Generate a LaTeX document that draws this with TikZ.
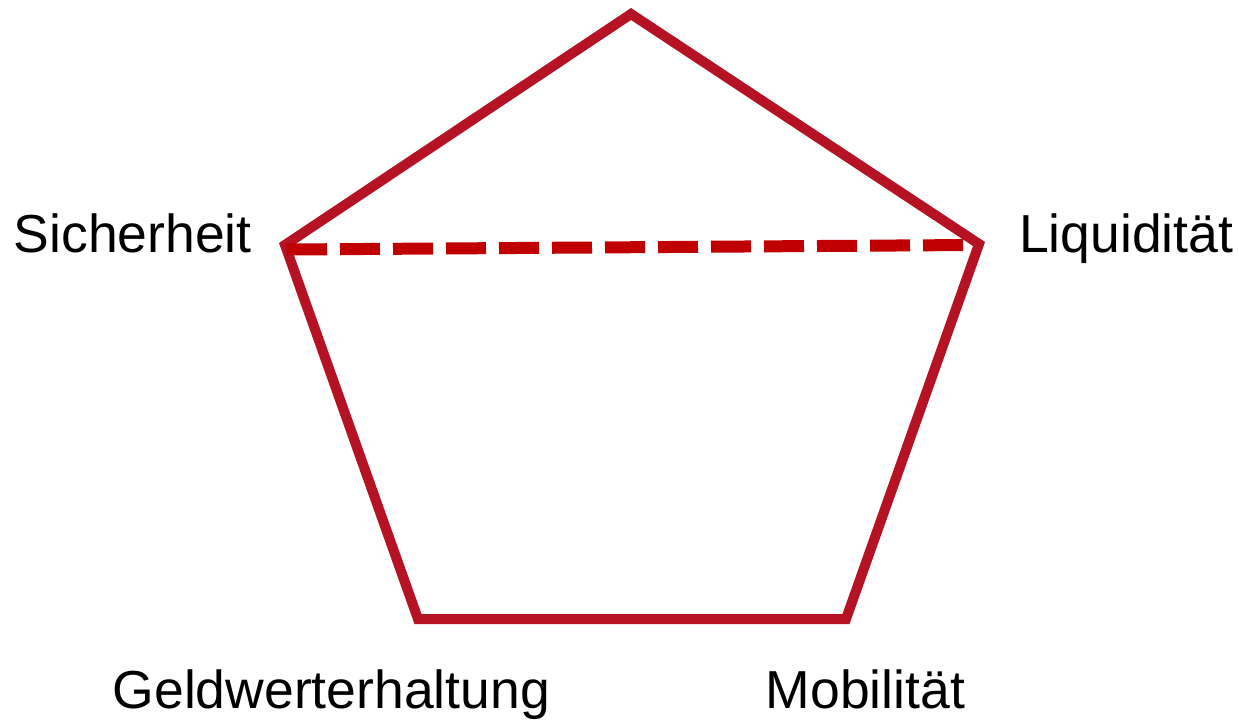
\documentclass[tikz,border=0pt]{standalone}
\usepackage{fontspec}
\setmainfont{Liberation Sans}
\definecolor{penta}{RGB}{181,18,35}
\definecolor{dashred}{RGB}{192,0,0}
\tikzset{
  lbl/.style={anchor=base west, inner sep=0pt, font=\fontsize{53.5}{60}\selectfont},
  edge/.style={draw=penta, line width=10pt, line join=miter},
  diag/.style={draw=dashred, line width=12pt, dash pattern=on 40pt off 13pt}
}
\begin{document}
\begin{tikzpicture}[x=1pt,y=-1pt]
\useasboundingbox (0,0) rectangle (1239,723);
\coordinate (T) at (631,14);
\coordinate (L) at (285,245);
\coordinate (R) at (979,244);
\coordinate (BL) at (418,619);
\coordinate (BR) at (846,619);
\coordinate (dl) at (287,249.5);
\coordinate (dr) at (972,245);
\draw[edge] (T) -- (R) -- (BR) -- (BL) -- (L) -- cycle;
\draw[diag] (dl) -- (dr);
\node[lbl] (sich) at (13.5,252) {Sicherheit};
\node[lbl] (liq) at (1019,252) {Liquidität};
\node[lbl] (geld) at (112.5,708) {Geldwerterhaltung};
\node[lbl] (mob) at (765.5,708) {Mobilität};
\end{tikzpicture}
\end{document}
